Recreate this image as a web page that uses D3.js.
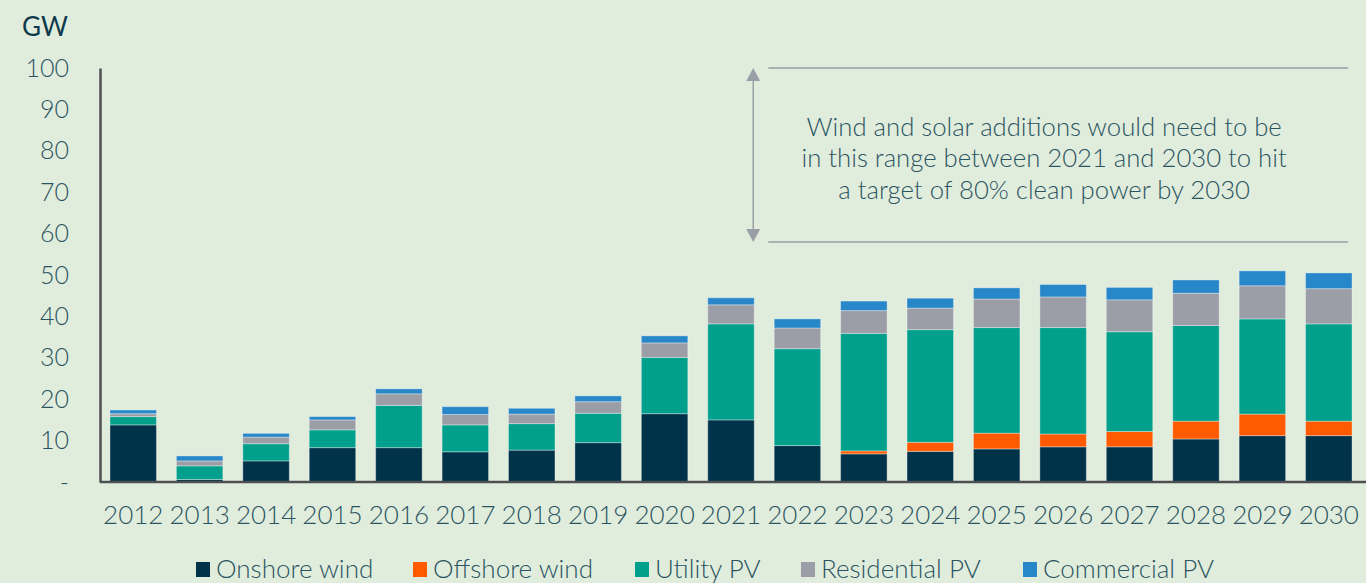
<!DOCTYPE html>
<html>
<head>
<meta charset="utf-8">
<script src="https://cdn.jsdelivr.net/npm/d3@7"></script>
<style>
  html, body { margin: 0; padding: 0; background: #e1eddc; overflow: hidden; }
  text { font-family: Lato, "Open Sans", sans-serif; fill: #2b5462; font-weight: 300; }
</style>
</head>
<body>
<script>
var years = ['2012','2013','2014','2015','2016','2017','2018','2019','2020','2021','2022','2023','2024','2025','2026','2027','2028','2029','2030'];
var onshore     = [13.8, 0.6, 5.1, 8.3, 8.3, 7.3, 7.7, 9.5, 16.5, 15.0, 8.8, 6.8, 7.4, 8.0, 8.5, 8.5, 10.4, 11.2, 11.2];
var offshore    = [0, 0, 0, 0, 0, 0, 0, 0, 0, 0, 0, 0.7, 2.2, 3.8, 3.1, 3.7, 4.3, 5.2, 3.5];
var utility     = [2.0, 3.3, 4.15, 4.3, 10.2, 6.5, 6.4, 7.1, 13.6, 23.2, 23.4, 28.4, 27.2, 25.5, 25.7, 24.1, 23.1, 23.0, 23.5];
var residential = [0.7, 1.2, 1.6, 2.4, 2.8, 2.5, 2.3, 2.8, 3.5, 4.6, 5.0, 5.5, 5.2, 6.9, 7.4, 7.7, 7.8, 8.0, 8.5];
var commercial  = [0.9, 1.2, 0.9, 0.8, 1.2, 1.9, 1.4, 1.4, 1.7, 1.7, 2.2, 2.3, 2.4, 2.7, 3.0, 3.0, 3.2, 3.6, 3.8];
var seriesNames = ['Onshore wind','Offshore wind','Utility PV','Residential PV','Commercial PV'];
var yTicks = [0,10,20,30,40,50,60,70,80,90,100];
var targetRange = [58, 100];
var note = ['Wind and solar additions would need to be', 'in this range between 2021 and 2030 to hit', 'a target of 80% clean power by 2030'];

var colors = ['#003349','#ff5a00','#00a08c','#9b9ea6','#2787c8'];

var width = 1366, height = 583;
var margin = {left:100, right:4, top:68, bottom:101};

var keys = ['onshore','offshore','utility','residential','commercial'];
var rows = years.map((yr,i)=>({
  year: yr, onshore: onshore[i], offshore: offshore[i], utility: utility[i],
  residential: residential[i], commercial: commercial[i]
}));

var x = d3.scaleBand().domain(years)
  .range([margin.left, width - margin.right])
  .paddingInner(0.3).paddingOuter(0.15);

var y = d3.scaleLinear().domain([0,100])
  .range([height - margin.bottom, margin.top]);

var stacked = d3.stack().keys(keys)(rows);

var svg = d3.select('body').append('svg').attr('width',width).attr('height',height);

svg.append('text').attr('x',22).attr('y',36).attr('font-size',26)
  .style('font-weight',400).style('fill','#0f3a4b').text('GW');

// bars
svg.selectAll('g.layer')
  .data(stacked)
  .enter().append('g')
    .attr('class','layer')
    .attr('fill',(d,i)=>colors[i])
  .selectAll('rect')
  .data(d=>d.filter(v=>v[1]-v[0]>0))
  .enter().append('rect')
    .attr('x',d=>x(d.data.year))
    .attr('width',x.bandwidth())
    .attr('y',d=>y(d[1]))
    .attr('height',d=>y(d[0])-y(d[1]))
    .attr('stroke','rgba(255,255,255,0.35)')
    .attr('stroke-width',1);

// y axis
var yAxis = svg.append('g')
  .attr('transform',`translate(${margin.left},0)`)
  .call(d3.axisLeft(y).tickValues(yTicks).tickSize(0).tickPadding(31)
    .tickFormat(d=>d===0?'-':d));
yAxis.select('.domain').attr('stroke','#4d4f52').attr('stroke-width',2.5);
yAxis.selectAll('text').attr('font-size',25).attr('fill','#2b5462')
  .style('font-family','Lato, sans-serif');

// x axis
var xAxis = svg.append('g')
  .attr('transform',`translate(0,${y(0)})`)
  .call(d3.axisBottom(x).tickSize(0).tickPadding(24));
xAxis.select('.domain').attr('stroke','#4d4f52').attr('stroke-width',2.5)
  .attr('d',`M${margin.left},0H${width}`);
xAxis.selectAll('text').attr('font-size',26).attr('fill','#2b5462')
  .style('font-family','Lato, sans-serif');

// annotation
var ax = x('2021') + x.bandwidth() - 1;
var lx0 = ax + 15, lx1 = x('2030') + x.bandwidth() - 4;
var ann = svg.append('g');
targetRange.forEach(v=>{
  ann.append('line').attr('x1',lx0).attr('x2',lx1).attr('y1',y(v)).attr('y2',y(v))
    .attr('stroke','#9a9ea6').attr('stroke-width',1.5);
});
ann.append('line').attr('x1',ax).attr('x2',ax)
  .attr('y1',y(targetRange[1])+12).attr('y2',y(targetRange[0])-12)
  .attr('stroke','#9a9ea6').attr('stroke-width',1.5);
ann.append('path')
  .attr('d',`M${ax},${y(targetRange[1])}l-7,13h14z`).attr('fill','#9a9ea6');
ann.append('path')
  .attr('d',`M${ax},${y(targetRange[0])}l-7,-13h14z`).attr('fill','#9a9ea6');
var cx = (lx0 + lx1)/2 - 14;
var ymid = (y(targetRange[0]) + y(targetRange[1]))/2;
note.forEach((t,i)=>{
  ann.append('text').attr('x',cx).attr('y',ymid - 19 + i*31.5)
    .attr('text-anchor','middle').attr('font-size',25.7).text(t);
});

// legend
var legendX = [196, 413, 635, 801, 1023];
var lg = svg.append('g').attr('transform',`translate(0,${height-5})`);
seriesNames.forEach((n,i)=>{
  lg.append('rect').attr('x',legendX[i]).attr('y',-16).attr('width',14).attr('height',15)
    .attr('fill',colors[i]);
  lg.append('text').attr('x',legendX[i]+20).attr('y',0).attr('font-size',26).text(n);
});
</script>
</body>
</html>
